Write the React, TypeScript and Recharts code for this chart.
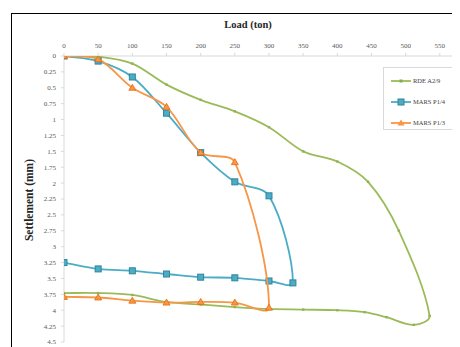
import React from 'react';
import { ScatterChart, Scatter, XAxis, YAxis } from 'recharts';

const loadTicks = [0, 50, 100, 150, 200, 250, 300, 350, 400, 450, 500, 550, 600];
const settlementTicks = [0, 0.25, 0.5, 0.75, 1, 1.25, 1.5, 1.75, 2, 2.25, 2.5, 2.75, 3, 3.25, 3.5, 3.75, 4, 4.25, 4.5];

const seriesNames = ['RDE A2/9', 'MARS P1/4', 'MARS P1/3'];

// RDE A2/9 (loading then unloading)
const rdeLoad = [0, 50, 100, 150, 200, 250, 300, 350, 400, 445, 490, 535, 512, 472, 440, 400, 350, 300, 250, 200, 150, 100, 50, 0];
const rdeSettlement = [0, 0.01, 0.12, 0.45, 0.69, 0.87, 1.12, 1.5, 1.66, 1.98, 2.75, 4.09, 4.23, 4.11, 4.03, 4.0, 3.99, 3.98, 3.95, 3.91, 3.87, 3.76, 3.73, 3.73];

// MARS P1/4
const p14Load = [0, 50, 100, 150, 200, 250, 300, 335, 300, 250, 200, 150, 100, 50, 0];
const p14Settlement = [0, 0.08, 0.33, 0.9, 1.52, 1.98, 2.2, 3.57, 3.54, 3.49, 3.48, 3.43, 3.38, 3.35, 3.25];

// MARS P1/3
const p13Load = [0, 50, 100, 150, 200, 250, 300, 250, 200, 150, 100, 50, 0];
const p13Settlement = [0, 0.05, 0.5, 0.8, 1.52, 1.67, 3.96, 3.88, 3.87, 3.88, 3.85, 3.8, 3.79];

const zip = (xs: number[], ys: number[]) => xs.map((x, i) => ({ load: x, settlement: ys[i] }));
const rdeData = zip(rdeLoad, rdeSettlement);
const p14Data = zip(p14Load, p14Settlement);
const p13Data = zip(p13Load, p13Settlement);

const GREEN = '#9BBB59';
const BLUE = '#4BACC6';
const ORANGE = '#F79646';
const FONT = '"Liberation Serif", "Times New Roman", serif';

// Excel-like smoothed curve (length-scaled Catmull-Rom)
function excelSmooth(context: any) {
  let pts: number[][] = [];
  const dist = (a: number[], b: number[]) => Math.hypot(b[0] - a[0], b[1] - a[1]);
  return {
    areaStart() {},
    areaEnd() {},
    lineStart() {
      pts = [];
    },
    point(x: number, y: number) {
      pts.push([+x, +y]);
    },
    lineEnd() {
      if (!pts.length) return;
      context.moveTo(pts[0][0], pts[0][1]);
      for (let i = 0; i < pts.length - 1; i++) {
        const p0 = pts[i - 1] || pts[i];
        const p1 = pts[i];
        const p2 = pts[i + 1];
        const p3 = pts[i + 2] || p2;
        const d01 = dist(p0, p1);
        const d12 = dist(p1, p2);
        const d23 = dist(p2, p3);
        const f1 = d01 + d12 > 0 ? d12 / (d01 + d12) / 3 : 0;
        const f2 = d12 + d23 > 0 ? d12 / (d12 + d23) / 3 : 0;
        const c1x = p1[0] + (p2[0] - p0[0]) * f1;
        const c1y = p1[1] + (p2[1] - p0[1]) * f1;
        const c2x = p2[0] - (p3[0] - p1[0]) * f2;
        const c2y = p2[1] - (p3[1] - p1[1]) * f2;
        context.bezierCurveTo(c1x, c1y, c2x, c2y, p2[0], p2[1]);
      }
    },
  };
}

const SquareMark = (p: any) => (
  <rect x={p.cx - 3} y={p.cy - 3} width={6} height={6} fill={BLUE} stroke="#31859C" strokeWidth={1} />
);
const TriangleMark = (p: any) => (
  <path d={`M${p.cx},${p.cy - 3.5} L${p.cx + 3.5},${p.cy + 2.5} L${p.cx - 3.5},${p.cy + 2.5} Z`} fill={ORANGE} stroke="#E46C0A" strokeWidth={0.8} />
);
const SmallMark = (p: any) => (
  <rect x={p.cx - 1.2} y={p.cy - 1.2} width={2.4} height={2.4} fill="#93B255" stroke="none" />
);

const legendItems = [
  { name: seriesNames[0], color: GREEN, mark: 'small' },
  { name: seriesNames[1], color: BLUE, mark: 'square' },
  { name: seriesNames[2], color: ORANGE, mark: 'triangle' },
];

const LegendBox = () => (
  <div
    style={{
      position: 'absolute',
      left: 383,
      top: 67,
      width: 73,
      height: 63,
      border: '1px solid #d9d9d9',
      background: '#fff',
      boxSizing: 'border-box',
    }}
  >
    {legendItems.map((it, i) => (
      <div key={it.name} style={{ position: 'absolute', left: 0, top: 6 + i * 21, height: 14, width: 72 }}>
        <svg width={28} height={14} style={{ position: 'absolute', left: 6, top: 0 }}>
          <line x1={1} y1={7} x2={21} y2={7} stroke={it.color} strokeWidth={1.8} />
          {it.mark === 'square' && <rect x={8} y={4} width={6} height={6} fill={BLUE} stroke="#31859C" />}
          {it.mark === 'triangle' && <path d="M11,3.5 L14.5,9.5 L7.5,9.5 Z" fill={ORANGE} />}
          {it.mark === 'small' && <rect x={9.5} y={5.5} width={3} height={3} fill="#8AA84E" />}
        </svg>
        <span
          style={{
            position: 'absolute',
            left: 29,
            top: 2,
            fontFamily: FONT,
            fontSize: 6.5,
            color: '#404040',
            whiteSpace: 'nowrap',
            lineHeight: '10px',
          }}
        >
          {it.name}
        </span>
      </div>
    ))}
  </div>
);

export default function App() {
  return (
    <div
      style={{
        position: 'relative',
        width: 460,
        height: 347,
        margin: '-8px 0 0 -8px',
        overflow: 'hidden',
        background: '#fff',
      }}
    >
      <div
        style={{
          position: 'absolute',
          left: 11,
          top: 13,
          width: 600,
          height: 400,
          border: '1.5px solid #000',
        }}
      />
      <div style={{ position: 'absolute', left: 0, top: 0 }}>
        <ScatterChart width={500} height={360} margin={{ top: 0, right: 26, bottom: 18, left: 0 }}>
          <XAxis
            type="number"
            dataKey="load"
            orientation="top"
            domain={[0, 600]}
            ticks={loadTicks}
            interval={0}
            height={56}
            tickSize={3}
            tickMargin={5}
            stroke="#d9d9d9"
            tick={{ fontSize: 7, fill: '#595959', fontFamily: FONT }}
            allowDataOverflow
            label={{
              content: () => (
                <text x={248} y={28} textAnchor="middle" fontFamily={FONT} fontWeight="bold" fontSize={10.5} fill="#262626">
                  Load (ton)
                </text>
              ),
            }}
          />
          <YAxis
            type="number"
            dataKey="settlement"
            reversed
            domain={[0, 4.5]}
            ticks={settlementTicks}
            interval={0}
            width={64}
            tickSize={3}
            tickMargin={5}
            stroke="#d9d9d9"
            tick={{ fontSize: 7, fill: '#595959', fontFamily: FONT }}
            allowDataOverflow
            label={{
              content: () => (
                <text
                  x={29}
                  y={200}
                  transform="rotate(-90, 29, 200)"
                  textAnchor="middle"
                  dominantBaseline="central"
                  fontFamily={FONT}
                  fontWeight="bold"
                  fontSize={11.5}
                  fill="#262626"
                >
                  Settlement (mm)
                </text>
              ),
            }}
          />
          <Scatter
            name={seriesNames[0]}
            data={rdeData}
            fill={GREEN}
            line={{ stroke: GREEN, strokeWidth: 1.8 }}
            lineType="joint"
            lineJointType={excelSmooth as any}
            shape={SmallMark}
            isAnimationActive={false}
          />
          <Scatter
            name={seriesNames[1]}
            data={p14Data}
            fill={BLUE}
            line={{ stroke: BLUE, strokeWidth: 1.8 }}
            lineType="joint"
            lineJointType={excelSmooth as any}
            shape={SquareMark}
            isAnimationActive={false}
          />
          <Scatter
            name={seriesNames[2]}
            data={p13Data}
            fill={ORANGE}
            line={{ stroke: ORANGE, strokeWidth: 1.8 }}
            lineType="joint"
            lineJointType={excelSmooth as any}
            shape={TriangleMark}
            isAnimationActive={false}
          />
        </ScatterChart>
      </div>
      <LegendBox />
    </div>
  );
}
